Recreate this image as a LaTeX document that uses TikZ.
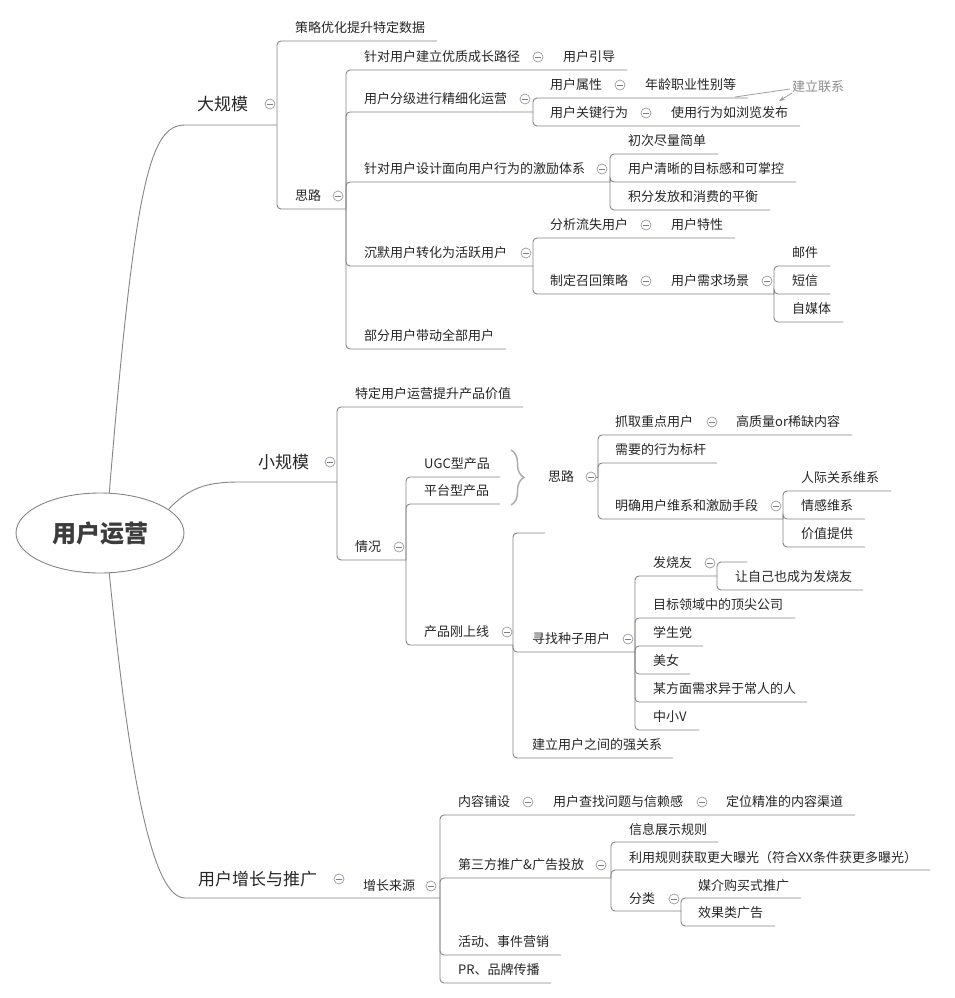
\documentclass[tikz,border=0pt]{standalone}
\usepackage{fontspec}
\setmainfont{Noto Sans CJK SC}
\usetikzlibrary{shapes.geometric,decorations.pathreplacing,arrows.meta}
\definecolor{txtc}{HTML}{262626}
\definecolor{linec}{HTML}{858585}
\definecolor{cbgray}{HTML}{9A9A9A}
\definecolor{cbminus}{HTML}{7C7C96}
\definecolor{relc}{HTML}{8C8C8C}
\definecolor{rell}{HTML}{A0A0A0}
\newcommand\lnk[4]{\coordinate (#2) at (#3,#4); \draw[br] (#1) |- (#2);}
\newcommand\cbx[3]{\node[cbtn] (#1) at (#2,#3) {};}
\begin{document}
\begin{tikzpicture}[x=1pt,y=-1pt,
  ln/.style={draw=linec, line width=0.9pt},
  br/.style={ln, rounded corners=4pt},
  sub/.style={anchor=west, inner sep=0pt, text=txtc, font=\fontsize{13}{13}\selectfont, text height=11.4pt, text depth=1.6pt},
  mainT/.style={anchor=west, inner sep=0pt, text=txtc, font=\fontsize{17}{17}\selectfont, text height=15pt, text depth=2pt},
  cbtn/.style={circle, draw=cbgray, fill=white, line width=0.7pt, minimum size=10pt, inner sep=0pt,
    path picture={\draw[draw=cbminus, line width=0.7pt] ([xshift=-2.6pt]path picture bounding box.center) -- ([xshift=2.6pt]path picture bounding box.center);}},
]
\useasboundingbox (0,0) rectangle (954,998);
\fill[white] (0,0) rectangle (954,998);

% root
\node[ellipse, draw=linec, line width=0.9pt, minimum width=168pt, minimum height=80pt, inner sep=0pt,
  font=\fontsize{24}{24}\selectfont\bfseries, text=txtc!90] (root) at (100,533) {用户运营};

% ===== 大规模 =====
\coordinate (j1) at (277,125);
\draw[ln] (root.77) .. controls (135,180) and (150,125) .. (185,125) -- (j1);
\node[mainT] (t1) at (197,104) {大规模}; \cbx{c1}{270}{104}
\lnk{j1}{e2}{437}{41}
\node[sub] (t2) at (295,28) {策略优化提升特定数据};
\coordinate (j2) at (346,209);
\draw[br] (j1) |- (j2);
\node[sub] (t3) at (295,196) {思路}; \cbx{c3}{338}{196}

\lnk{j2}{e4}{627}{70}
\node[sub] (t4) at (364,57) {针对用户建立优质成长路径}; \cbx{c4}{538}{57}
\node[sub] (t5) at (563,57) {用户引导};

\lnk{j2}{j3}{533}{112}
\node[sub] (t6) at (364,99) {用户分级进行精细化运营}; \cbx{c6}{525}{99}
\lnk{j3}{e7}{748}{98}
\node[sub] (t7) at (550,85) {用户属性}; \cbx{c7}{620}{85}
\node[sub] (t8) at (645,85) {年龄职业性别等};
\lnk{j3}{e9}{800}{126}
\node[sub] (t9) at (550,113) {用户关键行为}; \cbx{c9}{646}{113}
\node[sub] (t10) at (671,113) {使用行为如浏览发布};
\node[sub, text=relc] (lbl) at (792,87) {建立联系};
\coordinate (r0) at (735,97);
\draw[draw=rell, line width=0.8pt] (r0) -- ([shift={(-2,2)}]lbl.west);
\coordinate (r1) at (779,101);
\draw[draw=rell, line width=0.8pt, -{Stealth[length=6pt,width=4.5pt]}] ([shift={(0,6)}]lbl.west) -- (r1);

\lnk{j2}{j4}{610}{182}
\node[sub] (t11) at (364,169) {针对用户设计面向用户行为的激励体系}; \cbx{c11}{602}{169}
\lnk{j4}{e12}{718}{154}
\node[sub] (t12) at (628,141) {初次尽量简单};
\lnk{j4}{e13}{796}{182}
\node[sub] (t13) at (628,169) {用户清晰的目标感和可掌控};
\lnk{j4}{e14}{770}{210}
\node[sub] (t14) at (628,197) {积分发放和消费的平衡};

\lnk{j2}{j5}{533}{266}
\node[sub] (t15) at (364,253) {沉默用户转化为活跃用户}; \cbx{c15}{526}{253}
\lnk{j5}{e16}{735}{238}
\node[sub] (t16) at (550,225) {分析流失用户}; \cbx{c16}{646}{225}
\node[sub] (t17) at (671,225) {用户特性};
\lnk{j5}{j6}{774}{294}
\node[sub] (t18) at (550,281) {制定召回策略}; \cbx{c18}{646}{281}
\node[sub] (t19) at (671,281) {用户需求场景}; \cbx{c19}{767}{281}
\lnk{j6}{e20}{830}{266}
\node[sub] (t20) at (792,253) {邮件};
\lnk{j6}{e21}{830}{294}
\node[sub] (t21) at (792,281) {短信};
\lnk{j6}{e22}{843}{322}
\node[sub] (t22) at (792,309) {自媒体};

\lnk{j2}{e23}{506}{349}
\node[sub] (t23) at (364,336) {部分用户带动全部用户};

% ===== 小规模 =====
\coordinate (k1) at (337,482);
\draw[ln] (root.19) .. controls (190,486) and (210,482) .. (240,482) -- (k1);
\node[mainT] (s1) at (258,462) {小规模}; \cbx{d1}{330}{462}
\lnk{k1}{f2}{523}{407}
\node[sub] (s2) at (355,394) {特定用户运营提升产品价值};
\lnk{k1}{k2}{406}{560}
\node[sub] (s3) at (355,547) {情况}; \cbx{d3}{399}{547}
\lnk{k2}{f4}{500}{477}
\node[sub] (s4) at (424,464) {UGC型产品};
\lnk{k2}{f5}{500}{504}
\node[sub] (s5) at (424,491) {平台型产品};
\lnk{k2}{k3}{513}{645}
\node[sub] (s6) at (424,632) {产品刚上线}; \cbx{d6}{507}{632}

\coordinate (bt) at (511,450);
\coordinate (bb) at (511,505);
\draw[draw=cbgray!80, line width=1.5pt, decorate, decoration={brace, amplitude=13pt}] (bt) -- (bb);
\node[sub] (s7) at (548,477) {思路}; \cbx{d7}{591}{477}
\coordinate (k6) at (598,477);
\draw[ln] (d7.east) -- (k6);
\lnk{k6}{f8}{852}{435}
\node[sub] (s8) at (615,422) {抓取重点用户}; \cbx{d8}{712}{422}
\node[sub] (s9) at (736,422) {高质量or稀缺内容};
\lnk{k6}{f10}{717}{463}
\node[sub] (s10) at (615,450) {需要的行为标杆};
\lnk{k6}{k7}{783}{519}
\node[sub] (s11) at (615,506) {明确用户维系和激励手段}; \cbx{d11}{776}{506}
\lnk{k7}{f12}{891}{491}
\node[sub] (s12) at (801,478) {人际关系维系};
\lnk{k7}{f13}{865}{519}
\node[sub] (s13) at (801,506) {情感维系};
\lnk{k7}{f14}{865}{547}
\node[sub] (s14) at (801,534) {价值提供};

\lnk{k3}{f0}{545}{533}
\lnk{k3}{k4}{635}{652}
\node[sub] (s15) at (532,639) {寻找种子用户}; \cbx{d15}{628}{639}
\lnk{k3}{f16}{673}{758}
\node[sub] (s16) at (532,745) {建立用户之间的强关系};
\lnk{k4}{k5}{717}{576}
\node[sub] (s17) at (653,563) {发烧友}; \cbx{d17}{710}{563}
\lnk{k5}{f17}{747}{562}
\lnk{k5}{f18}{863}{590}
\node[sub] (s18) at (735,577) {让自己也成为发烧友};
\lnk{k4}{f19}{795}{618}
\node[sub] (s19) at (653,605) {目标领域中的顶尖公司};
\lnk{k4}{f20}{703}{646}
\node[sub] (s20) at (653,633) {学生党};
\lnk{k4}{f21}{690}{674}
\node[sub] (s21) at (653,661) {美女};
\lnk{k4}{f22}{807}{702}
\node[sub] (s22) at (653,689) {某方面需求异于常人的人};
\lnk{k4}{f23}{699}{730}
\node[sub] (s23) at (653,717) {中小V};

% ===== 用户增长与推广 =====
\coordinate (m1) at (440,898);
\draw[ln] (root.283) .. controls (128,760) and (150,898) .. (185,898) -- (m1);
\node[mainT] (b1) at (198,879) {用户增长与推广}; \cbx{g1}{339}{879}
\node[sub] (b2) at (363,886) {增长来源}; \cbx{g2}{431}{886}
\lnk{m1}{h3}{855}{815}
\node[sub] (b3) at (458,802) {内容铺设}; \cbx{g3}{528}{802}
\node[sub] (b4) at (553,802) {用户查找问题与信赖感}; \cbx{g4}{702}{802}
\node[sub] (b5) at (726,802) {定位精准的内容渠道};
\lnk{m1}{m2}{611}{878}
\node[sub] (b6) at (458,865) {第三方推广\&广告投放}; \cbx{g6}{601}{865}
\lnk{m2}{h7}{718}{842}
\node[sub] (b7) at (629,830) {信息展示规则};
\lnk{m2}{h8}{930}{870}
\node[sub] (b8) at (629,858) {利用规则获取更大曝光（符合XX条件获更多曝光）};
\lnk{m2}{m3}{681}{911}
\node[sub] (b9) at (629,899) {分类}; \cbx{g9}{674}{899}
\lnk{m3}{h10}{801}{898}
\node[sub] (b10) at (698,886) {媒介购买式推广};
\lnk{m3}{h11}{775}{926}
\node[sub] (b11) at (698,913) {效果类广告};
\lnk{m1}{h12}{561}{955}
\node[sub] (b12) at (458,942) {活动、事件营销};
\lnk{m1}{h13}{551}{983}
\node[sub] (b13) at (458,970) {PR、品牌传播};
\end{tikzpicture}
\end{document}
